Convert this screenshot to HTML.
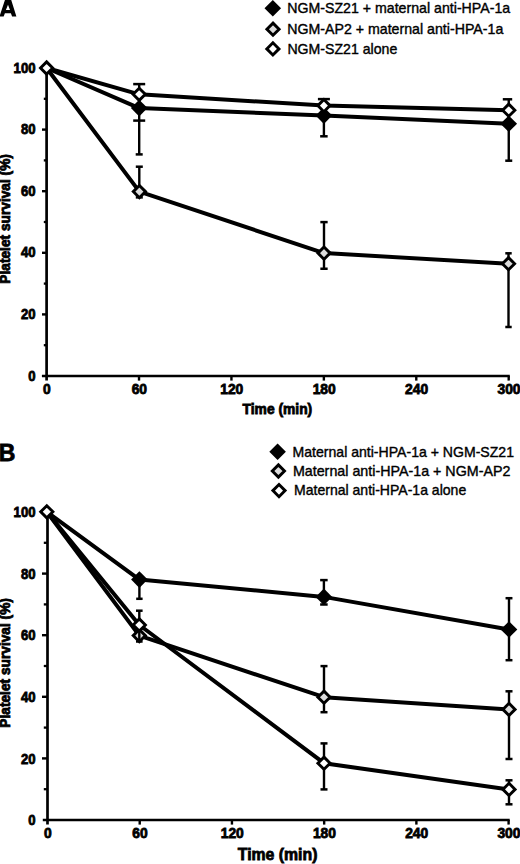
<!DOCTYPE html>
<html><head><meta charset="utf-8"><style>
html,body{margin:0;padding:0;background:#fff;width:520px;height:864px;overflow:hidden}
svg{display:block}
text{font-family:"Liberation Sans",sans-serif;fill:#000}
</style></head><body>
<svg width="520" height="864" viewBox="0 0 520 864" stroke="#000">
<line x1="46.60" y1="68.00" x2="46.60" y2="380.60" stroke-width="2.7" stroke-linecap="butt"/>
<line x1="41.90" y1="376.00" x2="509.80" y2="376.00" stroke-width="2.7" stroke-linecap="butt"/>
<line x1="43.80" y1="345.20" x2="46.60" y2="345.20" stroke-width="2.3" stroke-linecap="butt"/>
<line x1="42.00" y1="314.40" x2="46.60" y2="314.40" stroke-width="2.4" stroke-linecap="butt"/>
<line x1="43.80" y1="283.60" x2="46.60" y2="283.60" stroke-width="2.3" stroke-linecap="butt"/>
<line x1="42.00" y1="252.80" x2="46.60" y2="252.80" stroke-width="2.4" stroke-linecap="butt"/>
<line x1="43.80" y1="222.00" x2="46.60" y2="222.00" stroke-width="2.3" stroke-linecap="butt"/>
<line x1="42.00" y1="191.20" x2="46.60" y2="191.20" stroke-width="2.4" stroke-linecap="butt"/>
<line x1="43.80" y1="160.40" x2="46.60" y2="160.40" stroke-width="2.3" stroke-linecap="butt"/>
<line x1="42.00" y1="129.60" x2="46.60" y2="129.60" stroke-width="2.4" stroke-linecap="butt"/>
<line x1="43.80" y1="98.80" x2="46.60" y2="98.80" stroke-width="2.3" stroke-linecap="butt"/>
<line x1="42.00" y1="68.00" x2="46.60" y2="68.00" stroke-width="2.4" stroke-linecap="butt"/>
<line x1="139.02" y1="376.00" x2="139.02" y2="380.60" stroke-width="2.4" stroke-linecap="butt"/>
<line x1="231.44" y1="376.00" x2="231.44" y2="380.60" stroke-width="2.4" stroke-linecap="butt"/>
<line x1="323.86" y1="376.00" x2="323.86" y2="380.60" stroke-width="2.4" stroke-linecap="butt"/>
<line x1="416.28" y1="376.00" x2="416.28" y2="380.60" stroke-width="2.4" stroke-linecap="butt"/>
<line x1="508.70" y1="376.00" x2="508.70" y2="380.60" stroke-width="2.4" stroke-linecap="butt"/>
<text x="35.50" y="380.60" font-size="13.8" font-weight="bold" text-anchor="end" stroke="#000" stroke-width="0.8" textLength="7.30" lengthAdjust="spacingAndGlyphs">0</text>
<text x="35.50" y="319.00" font-size="13.8" font-weight="bold" text-anchor="end" stroke="#000" stroke-width="0.8" textLength="14.59" lengthAdjust="spacingAndGlyphs">20</text>
<text x="35.50" y="257.40" font-size="13.8" font-weight="bold" text-anchor="end" stroke="#000" stroke-width="0.8" textLength="14.59" lengthAdjust="spacingAndGlyphs">40</text>
<text x="35.50" y="195.80" font-size="13.8" font-weight="bold" text-anchor="end" stroke="#000" stroke-width="0.8" textLength="14.59" lengthAdjust="spacingAndGlyphs">60</text>
<text x="35.50" y="134.20" font-size="13.8" font-weight="bold" text-anchor="end" stroke="#000" stroke-width="0.8" textLength="14.59" lengthAdjust="spacingAndGlyphs">80</text>
<text x="35.50" y="72.60" font-size="13.8" font-weight="bold" text-anchor="end" stroke="#000" stroke-width="0.8" textLength="21.89" lengthAdjust="spacingAndGlyphs">100</text>
<text x="46.90" y="394.20" font-size="13.8" font-weight="bold" text-anchor="middle" stroke="#000" stroke-width="0.8" >0</text>
<text x="139.32" y="394.20" font-size="13.8" font-weight="bold" text-anchor="middle" stroke="#000" stroke-width="0.8" >60</text>
<text x="231.74" y="394.20" font-size="13.8" font-weight="bold" text-anchor="middle" stroke="#000" stroke-width="0.8" >120</text>
<text x="324.16" y="394.20" font-size="13.8" font-weight="bold" text-anchor="middle" stroke="#000" stroke-width="0.8" >180</text>
<text x="416.58" y="394.20" font-size="13.8" font-weight="bold" text-anchor="middle" stroke="#000" stroke-width="0.8" >240</text>
<text x="509.00" y="394.20" font-size="13.8" font-weight="bold" text-anchor="middle" stroke="#000" stroke-width="0.8" >300</text>
<text x="277.40" y="414.40" font-size="14" font-weight="bold" text-anchor="middle" stroke="#000" stroke-width="0.8" textLength="69.6" lengthAdjust="spacingAndGlyphs">Time (min)</text>
<text transform="translate(10.2 218.9) rotate(-90)" x="0" y="0" font-size="14" font-weight="bold" text-anchor="middle" textLength="129.6" lengthAdjust="spacingAndGlyphs" stroke="#000" stroke-width="0.8">Platelet survival (%)</text>
<polyline points="46.60,68.00 139.20,108.10 323.90,115.60 508.75,123.75" fill="none" stroke-width="4.0" stroke-linejoin="round" stroke-linecap="round"/>
<line x1="139.20" y1="108.10" x2="139.20" y2="154.40" stroke-width="2.4" stroke-linecap="butt"/>
<line x1="135.70" y1="154.40" x2="142.70" y2="154.40" stroke-width="2.5" stroke-linecap="butt"/>
<line x1="133.20" y1="120.60" x2="145.20" y2="120.60" stroke-width="2.5" stroke-linecap="butt"/>
<line x1="323.90" y1="115.60" x2="323.90" y2="136.30" stroke-width="2.4" stroke-linecap="butt"/>
<line x1="320.15" y1="136.30" x2="327.65" y2="136.30" stroke-width="2.5" stroke-linecap="butt"/>
<line x1="508.75" y1="123.75" x2="508.75" y2="160.70" stroke-width="2.4" stroke-linecap="butt"/>
<line x1="505.25" y1="160.70" x2="512.25" y2="160.70" stroke-width="2.5" stroke-linecap="butt"/>
<polyline points="46.60,68.00 139.40,191.60 324.00,253.10 508.50,263.70" fill="none" stroke-width="4.0" stroke-linejoin="round" stroke-linecap="round"/>
<line x1="139.30" y1="166.70" x2="139.30" y2="197.40" stroke-width="2.4" stroke-linecap="butt"/>
<line x1="135.80" y1="166.70" x2="142.80" y2="166.70" stroke-width="2.5" stroke-linecap="butt"/>
<line x1="135.80" y1="197.40" x2="142.80" y2="197.40" stroke-width="2.5" stroke-linecap="butt"/>
<line x1="324.00" y1="222.10" x2="324.00" y2="268.75" stroke-width="2.4" stroke-linecap="butt"/>
<line x1="320.35" y1="222.10" x2="327.65" y2="222.10" stroke-width="2.5" stroke-linecap="butt"/>
<line x1="320.35" y1="268.75" x2="327.65" y2="268.75" stroke-width="2.5" stroke-linecap="butt"/>
<line x1="508.50" y1="253.30" x2="508.50" y2="327.00" stroke-width="2.4" stroke-linecap="butt"/>
<line x1="505.30" y1="253.30" x2="511.70" y2="253.30" stroke-width="2.5" stroke-linecap="butt"/>
<line x1="505.30" y1="327.00" x2="511.70" y2="327.00" stroke-width="2.5" stroke-linecap="butt"/>
<polyline points="46.60,68.00 139.20,94.30 323.90,105.60 508.75,110.20" fill="none" stroke-width="4.0" stroke-linejoin="round" stroke-linecap="round"/>
<line x1="139.20" y1="84.10" x2="139.20" y2="108.00" stroke-width="2.4" stroke-linecap="butt"/>
<line x1="133.20" y1="84.10" x2="145.20" y2="84.10" stroke-width="2.5" stroke-linecap="butt"/>
<line x1="323.90" y1="99.10" x2="323.90" y2="108.00" stroke-width="2.4" stroke-linecap="butt"/>
<line x1="317.90" y1="99.10" x2="329.90" y2="99.10" stroke-width="2.5" stroke-linecap="butt"/>
<line x1="508.75" y1="99.30" x2="508.75" y2="112.00" stroke-width="2.4" stroke-linecap="butt"/>
<line x1="502.80" y1="99.30" x2="512.20" y2="99.30" stroke-width="2.5" stroke-linecap="butt"/>
<path d="M139.40 185.50L145.50 191.60L139.40 197.70L133.30 191.60Z" fill="#dcdcdc" stroke="#000" stroke-width="2.9" stroke-linejoin="miter"/>
<path d="M324.00 247.00L330.10 253.10L324.00 259.20L317.90 253.10Z" fill="#dcdcdc" stroke="#000" stroke-width="2.9" stroke-linejoin="miter"/>
<path d="M508.50 257.60L514.60 263.70L508.50 269.80L502.40 263.70Z" fill="#dcdcdc" stroke="#000" stroke-width="2.9" stroke-linejoin="miter"/>
<path d="M139.20 99.80L147.50 108.10L139.20 116.40L130.90 108.10Z" fill="#000" stroke="none"/>
<path d="M323.90 107.30L332.20 115.60L323.90 123.90L315.60 115.60Z" fill="#000" stroke="none"/>
<path d="M508.75 115.45L517.05 123.75L508.75 132.05L500.45 123.75Z" fill="#000" stroke="none"/>
<path d="M46.60 61.90L52.70 68.00L46.60 74.10L40.50 68.00Z" fill="#fff" stroke="#000" stroke-width="2.9" stroke-linejoin="miter"/>
<path d="M139.20 88.20L145.30 94.30L139.20 100.40L133.10 94.30Z" fill="#fff" stroke="#000" stroke-width="2.9" stroke-linejoin="miter"/>
<path d="M323.90 99.50L330.00 105.60L323.90 111.70L317.80 105.60Z" fill="#fff" stroke="#000" stroke-width="2.9" stroke-linejoin="miter"/>
<path d="M508.75 104.10L514.85 110.20L508.75 116.30L502.65 110.20Z" fill="#fff" stroke="#000" stroke-width="2.9" stroke-linejoin="miter"/>
<line x1="47.50" y1="512.00" x2="47.50" y2="824.60" stroke-width="2.7" stroke-linecap="butt"/>
<line x1="42.80" y1="820.00" x2="509.70" y2="820.00" stroke-width="2.7" stroke-linecap="butt"/>
<line x1="43.80" y1="789.20" x2="47.50" y2="789.20" stroke-width="2.3" stroke-linecap="butt"/>
<line x1="42.00" y1="758.40" x2="47.50" y2="758.40" stroke-width="2.4" stroke-linecap="butt"/>
<line x1="43.80" y1="727.60" x2="47.50" y2="727.60" stroke-width="2.3" stroke-linecap="butt"/>
<line x1="42.00" y1="696.80" x2="47.50" y2="696.80" stroke-width="2.4" stroke-linecap="butt"/>
<line x1="43.80" y1="666.00" x2="47.50" y2="666.00" stroke-width="2.3" stroke-linecap="butt"/>
<line x1="42.00" y1="635.20" x2="47.50" y2="635.20" stroke-width="2.4" stroke-linecap="butt"/>
<line x1="43.80" y1="604.40" x2="47.50" y2="604.40" stroke-width="2.3" stroke-linecap="butt"/>
<line x1="42.00" y1="573.60" x2="47.50" y2="573.60" stroke-width="2.4" stroke-linecap="butt"/>
<line x1="43.80" y1="542.80" x2="47.50" y2="542.80" stroke-width="2.3" stroke-linecap="butt"/>
<line x1="42.00" y1="512.00" x2="47.50" y2="512.00" stroke-width="2.4" stroke-linecap="butt"/>
<line x1="139.72" y1="820.00" x2="139.72" y2="824.60" stroke-width="2.4" stroke-linecap="butt"/>
<line x1="231.94" y1="820.00" x2="231.94" y2="824.60" stroke-width="2.4" stroke-linecap="butt"/>
<line x1="324.16" y1="820.00" x2="324.16" y2="824.60" stroke-width="2.4" stroke-linecap="butt"/>
<line x1="416.38" y1="820.00" x2="416.38" y2="824.60" stroke-width="2.4" stroke-linecap="butt"/>
<line x1="508.60" y1="820.00" x2="508.60" y2="824.60" stroke-width="2.4" stroke-linecap="butt"/>
<text x="35.50" y="825.10" font-size="13.8" font-weight="bold" text-anchor="end" stroke="#000" stroke-width="0.8" textLength="7.30" lengthAdjust="spacingAndGlyphs">0</text>
<text x="35.50" y="763.50" font-size="13.8" font-weight="bold" text-anchor="end" stroke="#000" stroke-width="0.8" textLength="14.59" lengthAdjust="spacingAndGlyphs">20</text>
<text x="35.50" y="701.90" font-size="13.8" font-weight="bold" text-anchor="end" stroke="#000" stroke-width="0.8" textLength="14.59" lengthAdjust="spacingAndGlyphs">40</text>
<text x="35.50" y="640.30" font-size="13.8" font-weight="bold" text-anchor="end" stroke="#000" stroke-width="0.8" textLength="14.59" lengthAdjust="spacingAndGlyphs">60</text>
<text x="35.50" y="578.70" font-size="13.8" font-weight="bold" text-anchor="end" stroke="#000" stroke-width="0.8" textLength="14.59" lengthAdjust="spacingAndGlyphs">80</text>
<text x="35.50" y="517.10" font-size="13.8" font-weight="bold" text-anchor="end" stroke="#000" stroke-width="0.8" textLength="21.89" lengthAdjust="spacingAndGlyphs">100</text>
<text x="47.80" y="838.20" font-size="13.8" font-weight="bold" text-anchor="middle" stroke="#000" stroke-width="0.8" >0</text>
<text x="140.02" y="838.20" font-size="13.8" font-weight="bold" text-anchor="middle" stroke="#000" stroke-width="0.8" >60</text>
<text x="232.24" y="838.20" font-size="13.8" font-weight="bold" text-anchor="middle" stroke="#000" stroke-width="0.8" >120</text>
<text x="324.46" y="838.20" font-size="13.8" font-weight="bold" text-anchor="middle" stroke="#000" stroke-width="0.8" >180</text>
<text x="416.68" y="838.20" font-size="13.8" font-weight="bold" text-anchor="middle" stroke="#000" stroke-width="0.8" >240</text>
<text x="508.90" y="838.20" font-size="13.8" font-weight="bold" text-anchor="middle" stroke="#000" stroke-width="0.8" >300</text>
<text x="277.60" y="860.30" font-size="16.4" font-weight="bold" text-anchor="middle" stroke="#000" stroke-width="0.8" textLength="79.6" lengthAdjust="spacingAndGlyphs">Time (min)</text>
<text transform="translate(10.2 662.9) rotate(-90)" x="0" y="0" font-size="14" font-weight="bold" text-anchor="middle" textLength="129.6" lengthAdjust="spacingAndGlyphs" stroke="#000" stroke-width="0.8">Platelet survival (%)</text>
<polyline points="46.80,511.80 139.40,579.60 323.90,596.90 509.00,629.50" fill="none" stroke-width="4.0" stroke-linejoin="round" stroke-linecap="round"/>
<line x1="139.40" y1="579.60" x2="139.40" y2="598.80" stroke-width="2.4" stroke-linecap="butt"/>
<line x1="136.20" y1="598.80" x2="142.60" y2="598.80" stroke-width="2.5" stroke-linecap="butt"/>
<line x1="323.90" y1="580.10" x2="323.90" y2="604.50" stroke-width="2.4" stroke-linecap="butt"/>
<line x1="320.15" y1="580.10" x2="327.65" y2="580.10" stroke-width="2.5" stroke-linecap="butt"/>
<line x1="320.15" y1="604.50" x2="327.65" y2="604.50" stroke-width="2.5" stroke-linecap="butt"/>
<line x1="509.00" y1="598.20" x2="509.00" y2="660.20" stroke-width="2.4" stroke-linecap="butt"/>
<line x1="505.55" y1="598.20" x2="512.45" y2="598.20" stroke-width="2.5" stroke-linecap="butt"/>
<line x1="505.55" y1="660.20" x2="512.45" y2="660.20" stroke-width="2.5" stroke-linecap="butt"/>
<polyline points="46.80,511.80 139.30,635.60 324.00,697.20 509.00,709.40" fill="none" stroke-width="4.0" stroke-linejoin="round" stroke-linecap="round"/>
<line x1="324.00" y1="666.10" x2="324.00" y2="712.20" stroke-width="2.4" stroke-linecap="butt"/>
<line x1="320.50" y1="666.10" x2="327.50" y2="666.10" stroke-width="2.5" stroke-linecap="butt"/>
<line x1="320.50" y1="712.20" x2="327.50" y2="712.20" stroke-width="2.5" stroke-linecap="butt"/>
<line x1="509.00" y1="691.30" x2="509.00" y2="759.00" stroke-width="2.4" stroke-linecap="butt"/>
<line x1="505.50" y1="691.30" x2="512.50" y2="691.30" stroke-width="2.5" stroke-linecap="butt"/>
<line x1="505.50" y1="759.00" x2="512.50" y2="759.00" stroke-width="2.5" stroke-linecap="butt"/>
<path d="M139.30 629.50L145.40 635.60L139.30 641.70L133.20 635.60Z" fill="#dcdcdc" stroke="#000" stroke-width="2.9" stroke-linejoin="miter"/>
<path d="M324.00 691.10L330.10 697.20L324.00 703.30L317.90 697.20Z" fill="#dcdcdc" stroke="#000" stroke-width="2.9" stroke-linejoin="miter"/>
<path d="M509.00 703.30L515.10 709.40L509.00 715.50L502.90 709.40Z" fill="#dcdcdc" stroke="#000" stroke-width="2.9" stroke-linejoin="miter"/>
<path d="M139.40 571.30L147.70 579.60L139.40 587.90L131.10 579.60Z" fill="#000" stroke="none"/>
<path d="M323.90 588.60L332.20 596.90L323.90 605.20L315.60 596.90Z" fill="#000" stroke="none"/>
<path d="M509.00 621.20L517.30 629.50L509.00 637.80L500.70 629.50Z" fill="#000" stroke="none"/>
<polyline points="46.80,511.80 139.30,625.00 324.00,763.20 509.00,789.40" fill="none" stroke-width="4.0" stroke-linejoin="round" stroke-linecap="round"/>
<line x1="139.30" y1="610.70" x2="139.30" y2="641.50" stroke-width="2.4" stroke-linecap="butt"/>
<line x1="136.00" y1="610.70" x2="142.60" y2="610.70" stroke-width="2.5" stroke-linecap="butt"/>
<line x1="136.00" y1="641.50" x2="142.60" y2="641.50" stroke-width="2.5" stroke-linecap="butt"/>
<line x1="324.00" y1="743.40" x2="324.00" y2="789.40" stroke-width="2.4" stroke-linecap="butt"/>
<line x1="320.50" y1="743.40" x2="327.50" y2="743.40" stroke-width="2.5" stroke-linecap="butt"/>
<line x1="320.50" y1="789.40" x2="327.50" y2="789.40" stroke-width="2.5" stroke-linecap="butt"/>
<line x1="509.00" y1="780.30" x2="509.00" y2="804.30" stroke-width="2.4" stroke-linecap="butt"/>
<line x1="505.50" y1="780.30" x2="512.50" y2="780.30" stroke-width="2.5" stroke-linecap="butt"/>
<line x1="505.50" y1="804.30" x2="512.50" y2="804.30" stroke-width="2.5" stroke-linecap="butt"/>
<path d="M46.80 505.70L52.90 511.80L46.80 517.90L40.70 511.80Z" fill="#fff" stroke="#000" stroke-width="2.9" stroke-linejoin="miter"/>
<path d="M139.30 618.90L145.40 625.00L139.30 631.10L133.20 625.00Z" fill="#fff" stroke="#000" stroke-width="2.9" stroke-linejoin="miter"/>
<path d="M324.00 757.10L330.10 763.20L324.00 769.30L317.90 763.20Z" fill="#fff" stroke="#000" stroke-width="2.9" stroke-linejoin="miter"/>
<path d="M509.00 783.30L515.10 789.40L509.00 795.50L502.90 789.40Z" fill="#fff" stroke="#000" stroke-width="2.9" stroke-linejoin="miter"/>
<path d="M-0.5 16.6L5.6 -2L10.6 -2L16.4 16.6L12.1 16.6L10.9 13.3L4.9 13.3L3.65 16.6ZM5.9 10.1L8.0 4.8L10.0 10.1Z" fill="#000" stroke="none" fill-rule="evenodd"/>
<text x="-1.20" y="461.00" font-size="23" font-weight="bold" text-anchor="start" stroke="#000" stroke-width="0.8" >B</text>
<path d="M272.80 0.00L281.10 8.30L272.80 16.60L264.50 8.30Z" fill="#000" stroke="none"/>
<path d="M273.00 23.10L279.10 29.20L273.00 35.30L266.90 29.20Z" fill="#dcdcdc" stroke="#000" stroke-width="2.9" stroke-linejoin="miter"/>
<path d="M272.90 42.80L279.00 48.90L272.90 55.00L266.80 48.90Z" fill="#fff" stroke="#000" stroke-width="2.9" stroke-linejoin="miter"/>
<text x="287.20" y="13.30" font-size="15" font-weight="normal" text-anchor="start" stroke="#000" stroke-width="0.4" textLength="223.0" lengthAdjust="spacingAndGlyphs">NGM-SZ21 + maternal anti-HPA-1a</text>
<text x="287.20" y="33.80" font-size="15" font-weight="normal" text-anchor="start" stroke="#000" stroke-width="0.4" textLength="216.1" lengthAdjust="spacingAndGlyphs">NGM-AP2 + maternal anti-HPA-1a</text>
<text x="287.40" y="53.80" font-size="15" font-weight="normal" text-anchor="start" stroke="#000" stroke-width="0.4" textLength="109.9" lengthAdjust="spacingAndGlyphs">NGM-SZ21 alone</text>
<path d="M277.60 443.50L285.90 451.80L277.60 460.10L269.30 451.80Z" fill="#000" stroke="none"/>
<path d="M278.40 464.90L284.50 471.00L278.40 477.10L272.30 471.00Z" fill="#dcdcdc" stroke="#000" stroke-width="2.9" stroke-linejoin="miter"/>
<path d="M279.00 484.50L285.10 490.60L279.00 496.70L272.90 490.60Z" fill="#fff" stroke="#000" stroke-width="2.9" stroke-linejoin="miter"/>
<text x="292.50" y="457.30" font-size="15" font-weight="normal" text-anchor="start" stroke="#000" stroke-width="0.4" textLength="221.5" lengthAdjust="spacingAndGlyphs">Maternal anti-HPA-1a + NGM-SZ21</text>
<text x="292.90" y="475.80" font-size="15" font-weight="normal" text-anchor="start" stroke="#000" stroke-width="0.4" textLength="217.5" lengthAdjust="spacingAndGlyphs">Maternal anti-HPA-1a + NGM-AP2</text>
<text x="294.00" y="495.30" font-size="15" font-weight="normal" text-anchor="start" stroke="#000" stroke-width="0.4" textLength="172.2" lengthAdjust="spacingAndGlyphs">Maternal anti-HPA-1a alone</text>
</svg>
</body></html>
